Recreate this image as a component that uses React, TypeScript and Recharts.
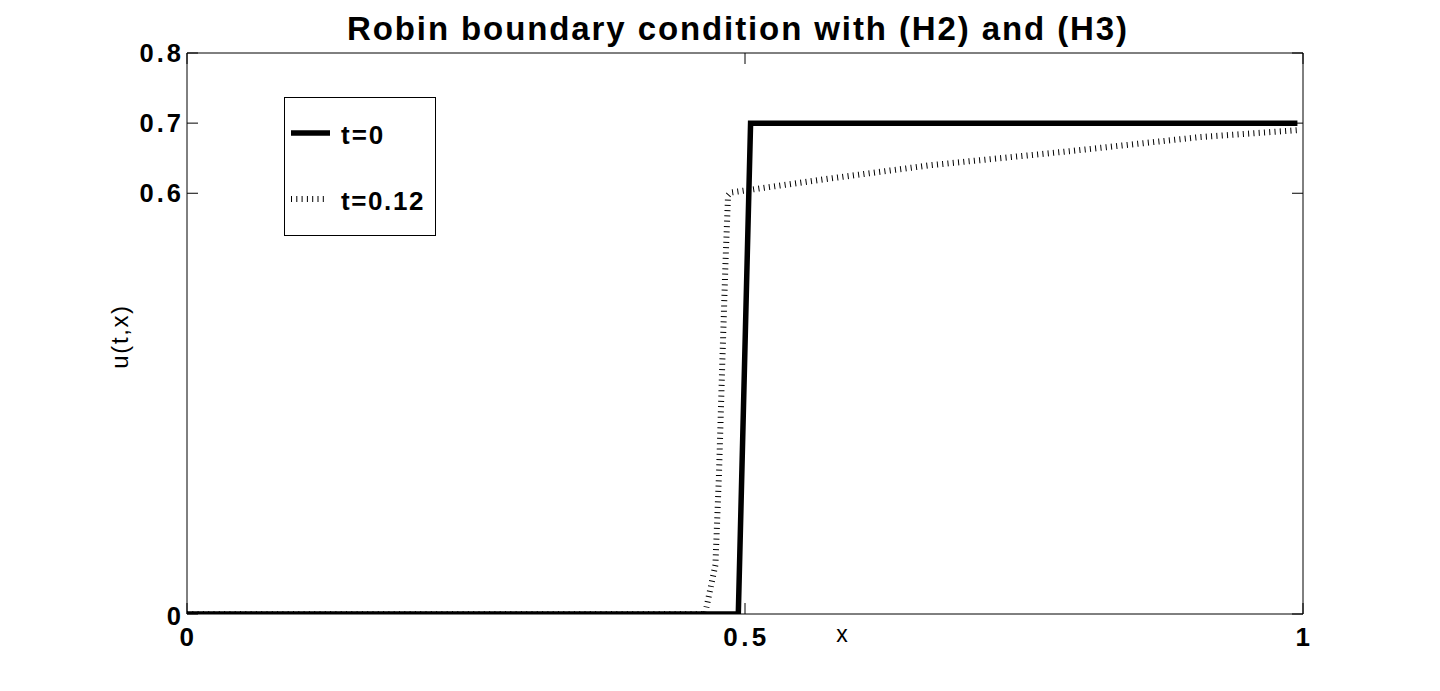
import React from 'react';
import { LineChart, Line, XAxis, YAxis, Legend } from 'recharts';

const title = 'Robin boundary condition with (H2) and (H3)';
const xLabel = 'x';
const yLabel = 'u(t,x)';
const xTicks = [0, 0.5, 1];
const yTicks = [0, 0.6, 0.7, 0.8];

// t = 0 (initial datum)
const t0X = [0, 0.494, 0.505, 0.995];
const t0U = [0, 0, 0.7, 0.7];

// t = 0.12
const t12X = [0, 0.4642, 0.4686, 0.4735, 0.4767, 0.4795, 0.4825, 0.4848, 0.487, 0.576, 0.666, 0.785, 0.907, 0.995];
const t12U = [0, 0, 0.033, 0.07, 0.2, 0.35, 0.5, 0.597, 0.601, 0.621, 0.64, 0.659, 0.68, 0.69];

const seriesNames = ['t=0', 't=0.12'];

const dataT0 = t0X.map((x, i) => ({ x, u: t0U[i] }));
const dataT12 = t12X.map((x, i) => ({ x, u: t12U[i] }));

const FONT = '"Liberation Sans", Arial, Helvetica, sans-serif';
const TICK_LEN = 11;

const fmt = (v: number) => (v === 0 ? '0' : String(v));

const BottomTick = (props: any) => {
  const { x, y, payload } = props;
  return (
    <g>
      <line x1={x} x2={x} y1={y} y2={y - TICK_LEN} stroke="#000" strokeWidth={1} />
      <text x={x + 1.5} y={y + 23} dy="0.36em" textAnchor="middle" fontFamily={FONT} fontWeight="bold" fontSize={26} letterSpacing={3.5} fill="#000">
        {fmt(payload.value)}
      </text>
    </g>
  );
};

const TopTick = (props: any) => {
  const { x, y } = props;
  return <line x1={x} x2={x} y1={y} y2={y + TICK_LEN} stroke="#000" strokeWidth={1} />;
};

const LeftTick = (props: any) => {
  const { x, y, payload } = props;
  return (
    <g>
      <line x1={x} x2={x + TICK_LEN} y1={y} y2={y} stroke="#000" strokeWidth={1} />
      <text x={x - 3} y={y + (payload.value === 0 ? 2 : 0)} dy="0.36em" textAnchor="end" fontFamily={FONT} fontWeight="bold" fontSize={25.5} letterSpacing={3} fill="#000">
        {fmt(payload.value)}
      </text>
    </g>
  );
};

const RightTick = (props: any) => {
  const { x, y } = props;
  return <line x1={x} x2={x - TICK_LEN} y1={y} y2={y} stroke="#000" strokeWidth={1} />;
};

const TitleLabel = (props: any) => {
  const vb = props.viewBox || {};
  return (
    <text x={vb.x + vb.width / 2 - 7} y={28} dy="0.36em" textAnchor="middle" fontFamily={FONT} fontWeight="bold" fontSize={33} letterSpacing={1.9} fill="#000">
      {title}
    </text>
  );
};

const XLabel = (props: any) => {
  const vb = props.viewBox || {};
  return (
    <text x={vb.x + vb.width * 0.587} y={634} dy="0.36em" textAnchor="middle" fontFamily={FONT} fontSize={23} fill="#000">
      {xLabel}
    </text>
  );
};

const YLabel = (props: any) => {
  const vb = props.viewBox || {};
  const cy = vb.y + vb.height / 2 + 3;
  return (
    <text x={119} y={cy} dy="0.36em" textAnchor="middle" transform={`rotate(-90 119 ${cy})`} fontFamily={FONT} fontSize={24} letterSpacing={1.6} fill="#000">
      {yLabel}
    </text>
  );
};

const LegendBox = () => (
  <div
    style={{
      width: 150,
      height: 137,
      border: '1px solid #000',
      background: '#fff',
      position: 'relative',
      boxSizing: 'content-box',
    }}
  >
    <svg width={150} height={137} style={{ position: 'absolute', left: 0, top: 0 }}>
      <line x1={6} x2={45} y1={35} y2={35} stroke="#000" strokeWidth={5.5} />
      <text x={56} y={37} dy="0.36em" fontFamily={FONT} fontWeight="bold" fontSize={26} letterSpacing={2} fill="#000">
        {seriesNames[0]}
      </text>
      <line x1={6} x2={43} y1={101} y2={101} stroke="#000" strokeWidth={6} strokeDasharray="1 4.3" />
      <text x={56} y={103} dy="0.36em" fontFamily={FONT} fontWeight="bold" fontSize={26} letterSpacing={1.6} fill="#000">
        {seriesNames[1]}
      </text>
    </svg>
  </div>
);

export default function App() {
  return (
    <div style={{ position: 'absolute', left: 0, top: 0, width: 1440, height: 691, background: '#fff' }}>
      <LineChart
        width={1440}
        height={691}
        margin={{ top: 33, right: 117, bottom: 37, left: 127 }}
      >
        <XAxis
          xAxisId="bottom"
          dataKey="x"
          type="number"
          domain={[0, 1]}
          ticks={xTicks}
          orientation="bottom"
          height={40}
          tickSize={0}
          tickMargin={0}
          tickLine={false}
          axisLine={{ stroke: '#000', strokeWidth: 1 }}
          tick={<BottomTick />}
          interval={0}
          allowDataOverflow
          label={<XLabel />}
        />
        <XAxis
          xAxisId="top"
          dataKey="x"
          type="number"
          domain={[0, 1]}
          ticks={xTicks}
          orientation="top"
          height={20}
          tickSize={0}
          tickMargin={0}
          tickLine={false}
          axisLine={{ stroke: '#000', strokeWidth: 1 }}
          tick={<TopTick />}
          interval={0}
          allowDataOverflow
          label={<TitleLabel />}
        />
        <YAxis
          yAxisId="left"
          type="number"
          domain={[0, 0.8]}
          ticks={yTicks}
          orientation="left"
          width={60}
          tickSize={0}
          tickMargin={0}
          tickLine={false}
          axisLine={{ stroke: '#000', strokeWidth: 1 }}
          tick={<LeftTick />}
          interval={0}
          allowDataOverflow
          label={<YLabel />}
        />
        <YAxis
          yAxisId="right"
          type="number"
          domain={[0, 0.8]}
          ticks={yTicks}
          orientation="right"
          width={20}
          tickSize={0}
          tickMargin={0}
          tickLine={false}
          axisLine={{ stroke: '#000', strokeWidth: 1 }}
          tick={<RightTick />}
          interval={0}
          allowDataOverflow
        />
        <Line
          xAxisId="bottom"
          yAxisId="left"
          data={dataT12}
          dataKey="u"
          name={seriesNames[1]}
          type="linear"
          stroke="#000"
          strokeWidth={6}
          strokeDasharray="1 4.3"
          dot={false}
          activeDot={false}
          isAnimationActive={false}
        />
        <Line
          xAxisId="bottom"
          yAxisId="left"
          data={dataT0}
          dataKey="u"
          name={seriesNames[0]}
          type="linear"
          stroke="#000"
          strokeWidth={5.5}
          strokeLinecap="butt"
          dot={false}
          activeDot={false}
          isAnimationActive={false}
        />
        <Legend
          layout="vertical"
          align="center"
          verticalAlign="middle"
          content={<LegendBox />}
          wrapperStyle={{ position: 'absolute', left: 284, top: 97, width: 152, height: 139 }}
        />
      </LineChart>
    </div>
  );
}
